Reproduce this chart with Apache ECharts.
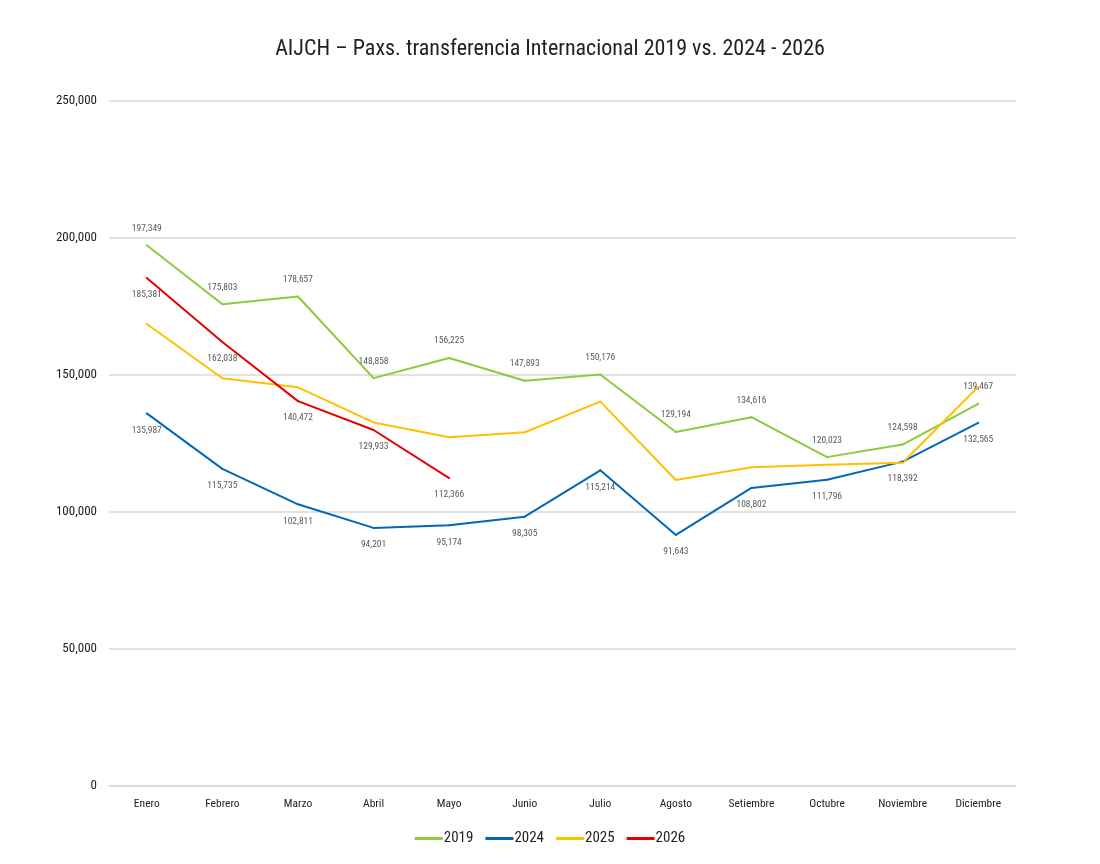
<!DOCTYPE html>
<html><head><meta charset="utf-8">
<script src="https://cdn.jsdelivr.net/npm/echarts@6/dist/echarts.min.js"></script>
<style>html,body{margin:0;padding:0;background:#fff}#c{width:1100px;height:864px}</style>
</head><body><div id="c"></div>
<script>
const categories = ['Enero','Febrero','Marzo','Abril','Mayo','Junio','Julio','Agosto','Setiembre','Octubre','Noviembre','Diciembre'];
const s2019 = [197349,175803,178657,148858,156225,147893,150176,129194,134616,120023,124598,139467];
const s2024 = [135987,115735,102811,94201,95174,98305,115214,91643,108802,111796,118392,132565];
const s2025 = [168600,148800,145500,132700,127300,129100,140300,111700,116300,117200,118000,145700];
const s2026 = [185381,162038,140472,129933,112366];
const yTicks = [0,50000,100000,150000,200000,250000];

const FONT = '"Liberation Sans Narrow","Roboto Condensed","Liberation Sans",Arial,sans-serif';
const fmt = v => v.toLocaleString('en-US');
const lbl = (pos) => ({show:true, position:pos, distance:11, fontSize:9.5, color:'#595959', fontFamily:FONT, formatter:p=>fmt(p.value)});
const mk = (name, data, color, pos) => ({
  name, type:'line', data, symbol:'circle', symbolSize:2, showSymbol:true,
  lineStyle:{width:2, color}, itemStyle:{color},
  label: pos ? lbl(pos) : {show:false}, labelLayout:{hideOverlap:false}
});

const chart = echarts.init(document.getElementById('c'));
chart.setOption({
  backgroundColor:'#fff',
  animation:false,
  title:{text:'AIJCH – Paxs. transferencia Internacional 2019 vs. 2024 - 2026', left:'center', top:33,
    textStyle:{fontSize:22, fontWeight:'normal', color:'#222', fontFamily:FONT}},
  legend:{bottom:13, left:'center', itemWidth:28, itemHeight:3, itemGap:12, icon:'rect',
    textStyle:{fontSize:15, color:'#222', fontFamily:FONT, padding:[0,0,0,-4]}},
  grid:{left:109, right:84, top:101, bottom:78, containLabel:false},
  xAxis:{type:'category', data:categories, boundaryGap:true,
    axisLine:{show:true, lineStyle:{color:'#d9d9d9', width:1.5}}, axisTick:{show:false},
    axisLabel:{fontSize:11.5, color:'#222', margin:12, fontFamily:FONT}},
  yAxis:{type:'value', min:yTicks[0], max:yTicks[yTicks.length-1], interval:50000,
    axisLine:{show:false}, axisTick:{show:false},
    axisLabel:{fontSize:13, color:'#222', margin:12, fontFamily:FONT, formatter:v=>fmt(v)},
    splitLine:{lineStyle:{color:'#d9d9d9', width:1.5}}},
  series:[
    mk('2019', s2019, '#8CCB3C', 'top'),
    mk('2024', s2024, '#0068B8', 'bottom'),
    mk('2025', s2025, '#FFC000', null),
    mk('2026', s2026, '#E60000', 'bottom')
  ]
});
</script></body></html>
